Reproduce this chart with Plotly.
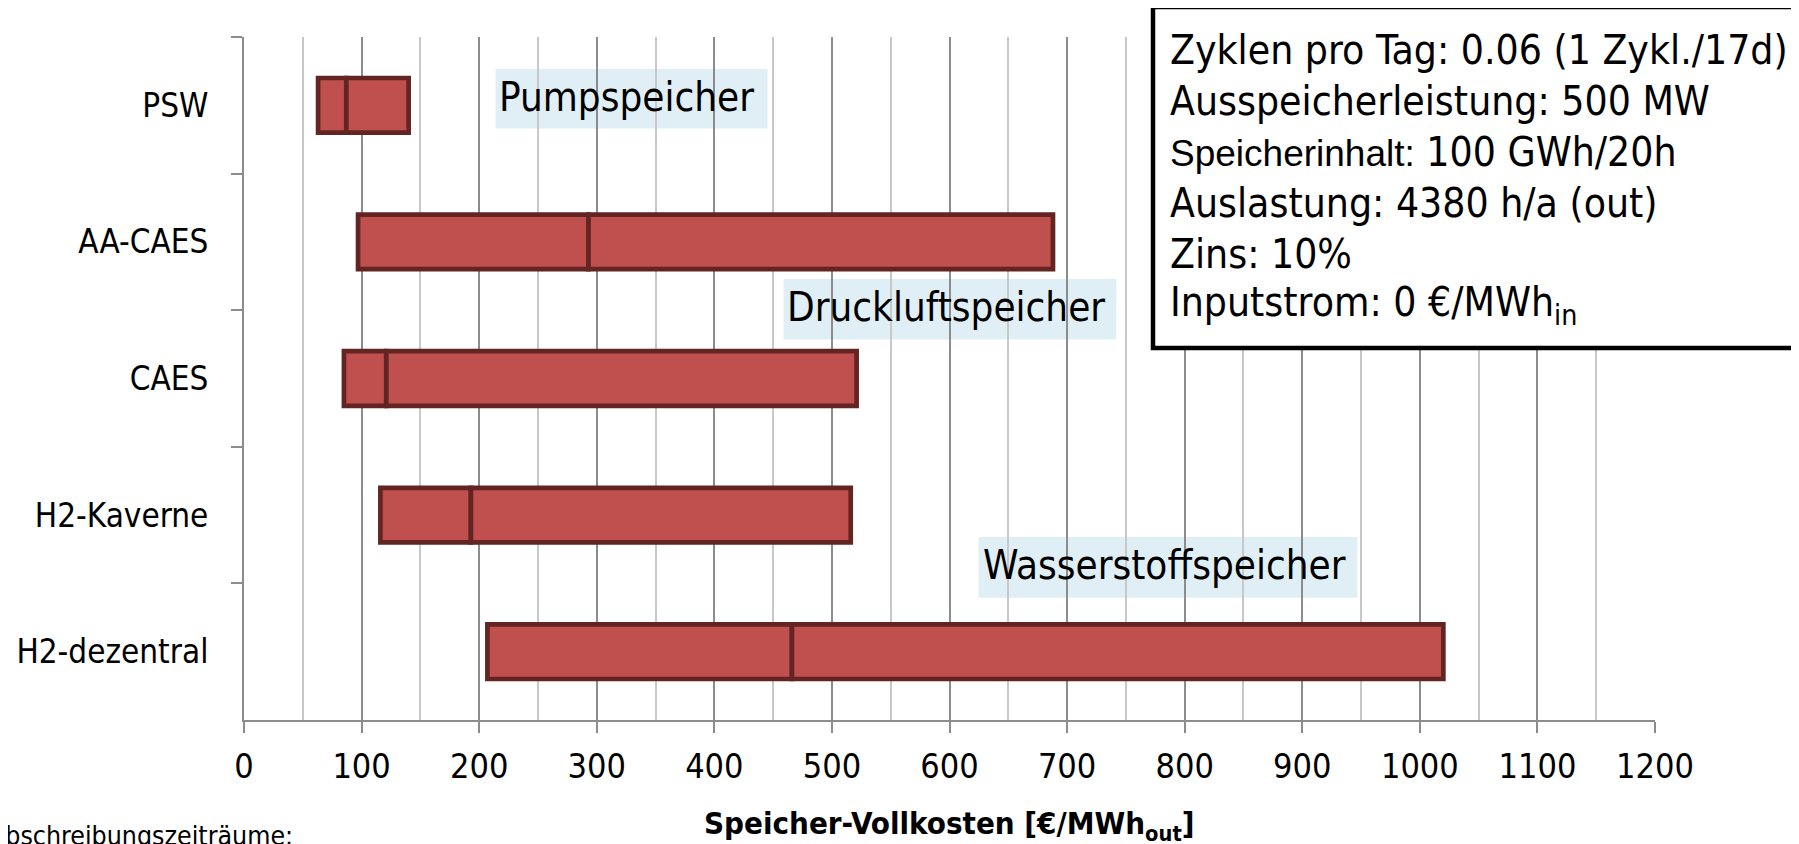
import plotly.graph_objects as go

# ---------------- data ----------------
categories = ["PSW", "AA-CAES", "CAES", "H2-Kaverne", "H2-dezentral"]
cost_low = [63, 97, 85, 116, 207]
cost_mid = [87, 293, 121, 193, 466]
cost_high = [140, 688, 521, 516, 1020]
x_ticks = [0, 100, 200, 300, 400, 500, 600, 700, 800, 900, 1000, 1100, 1200]
group_labels = ["Pumpspeicher", "Druckluftspeicher", "Wasserstoffspeicher"]
info_lines = [
    "Zyklen pro Tag: 0.06 (1 Zykl./17d)",
    "Ausspeicherleistung: 500 MW",
    "<span style=\"font-family:'Liberation Sans', Arial, sans-serif;font-size:37px\">Speicherinhalt:</span> 100 GWh/20h",
    "Auslastung: 4380 h/a (out)",
    "Zins: 10%",
    "Inputstrom: 0 €/MWh<sub>in</sub>",
]
x_title = "Speicher-Vollkosten [€/MWh<sub>out</sub>]"
note_text = "<u>Abschreibungszeiträume</u>:"

# ---------------- geometry (pixels, in window coordinates) ----------------
WIN_W, WIN_H = 1799, 844
OFF = 8  # default page body margin
W, H = WIN_W - OFF, WIN_H - OFF
PL, PR, PT, PB = 244, 1655, 37, 720  # plot area in window pixels
FONT = "DejaVu Sans Condensed, DejaVu Sans, sans-serif"


def px(x):
    return (x - PL) / (PR - PL)


def py(y):
    return (PB - y) / (PB - PT)


BAR_FILL = "#C0504D"
BAR_LINE = "#632523"

fig = go.Figure()
fig.add_trace(go.Bar(
    y=categories, x=[m - l for l, m in zip(cost_low, cost_mid)], base=cost_low,
    orientation="h", width=0.4,
    marker=dict(color=BAR_FILL, line=dict(color=BAR_LINE, width=4.7)),
    showlegend=False, hoverinfo="skip",
))
fig.add_trace(go.Bar(
    y=categories, x=[h - m for m, h in zip(cost_mid, cost_high)], base=cost_mid,
    orientation="h", width=0.4,
    marker=dict(color=BAR_FILL, line=dict(color=BAR_LINE, width=4.7)),
    showlegend=False, hoverinfo="skip",
))

shapes = []
annotations = []

# group label boxes (light blue) with text
label_boxes = [
    (495.6, 767.6, 69, 128.5, 497),
    (783.6, 1116.3, 279, 339.6, 785),
    (978.6, 1357.3, 537, 597.7, 981),
]
for text, (x0, x1, y0, y1, tx) in zip(group_labels, label_boxes):
    shapes.append(dict(type="rect", xref="paper", yref="paper",
                       x0=px(x0), x1=px(x1), y0=py(y1), y1=py(y0),
                       fillcolor="#E0EFF5", line=dict(width=0), layer="below"))
    annotations.append(dict(text=text, xref="paper", yref="paper",
                            x=px(tx), y=py((y0 + y1) / 2 - 2), xanchor="left", yanchor="middle",
                            showarrow=False, font=dict(family=FONT, size=40, color="#000000")))

# info box
shapes.append(dict(type="rect", xref="paper", yref="paper",
                   x0=px(1153), x1=px(1830), y0=py(348), y1=py(7),
                   fillcolor="#FFFFFF", line=dict(color="#000000", width=4.5), layer="above"))
for i, line in enumerate(info_lines):
    yc = 50 + i * 51
    annotations.append(dict(text=line, xref="paper", yref="paper",
                            x=px(1168), y=py(yc), xanchor="left", yanchor="middle",
                            showarrow=False, font=dict(family=FONT, size=40.5, color="#000000")))

# x-axis title
annotations.append(dict(text="<b>" + x_title + "</b>", xref="paper", yref="paper",
                        x=0.5, y=py(825), xanchor="center", yanchor="middle",
                        showarrow=False, font=dict(family=FONT, size=31, color="#000000")))
# bottom-left note (partly cut at left edge)
annotations.append(dict(text=note_text, xref="paper", yref="paper",
                        x=px(-13), y=py(835), xanchor="left", yanchor="middle",
                        showarrow=False, font=dict(family=FONT, size=26.5, color="#000000")))

fig.update_layout(
    width=W, height=H,
    margin=dict(l=PL - OFF, r=WIN_W - PR, t=PT - OFF, b=WIN_H - PB, pad=0, autoexpand=False),
    paper_bgcolor="#FFFFFF", plot_bgcolor="#FFFFFF",
    barmode="overlay",
    shapes=shapes, annotations=annotations,
    font=dict(family=FONT, color="#000000"),
    xaxis=dict(
        range=[0, 1200], tickmode="array", tickvals=x_ticks,
        ticktext=[str(v) for v in x_ticks], automargin=False,
        showgrid=True, gridcolor="#8C8C8C", gridwidth=1.5,
        minor=dict(dtick=50, tick0=0, showgrid=True, gridcolor="#C8C8C8", gridwidth=1.5),
        showline=True, linecolor="#8C8C8C", linewidth=2,
        ticks="outside", ticklen=11, tickwidth=1.5, tickcolor="#8C8C8C",
        tickfont=dict(family=FONT, size=34, color="#000000"),
        zeroline=False, ticklabelstandoff=4,
    ),
    yaxis=dict(
        type="category", categoryorder="array", categoryarray=categories,
        range=[4.5, -0.5], automargin=False,
        showgrid=False, showline=True, linecolor="#8C8C8C", linewidth=2,
        ticks="outside", tickson="boundaries", ticklen=11, tickwidth=1.5, tickcolor="#8C8C8C",
        tickfont=dict(family=FONT, size=33, color="#000000"),
        ticklabelstandoff=27, zeroline=False,
    ),
)

fig.write_html("out.html")
